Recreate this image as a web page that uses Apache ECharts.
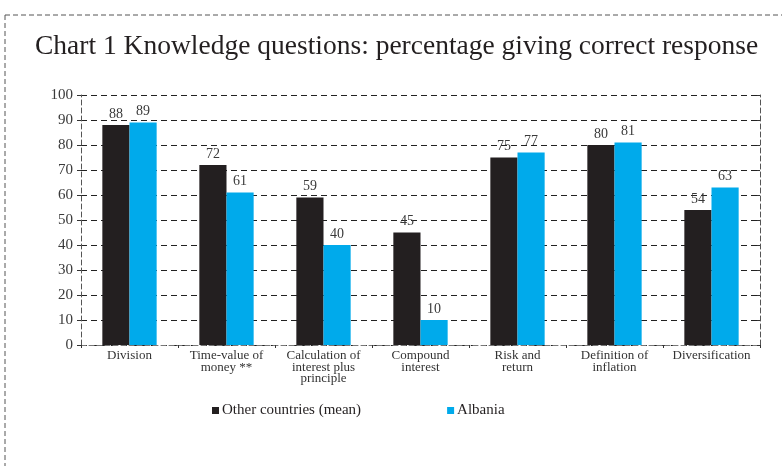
<!DOCTYPE html>
<html>
<head>
<meta charset="utf-8">
<script src="https://cdn.jsdelivr.net/npm/echarts@6/dist/echarts.min.js"></script>
<style>
html,body{margin:0;padding:0;background:#fff;}
#c{width:782px;height:466px;}
</style>
</head>
<body>
<div id="c"></div>
<script>
const categories = ["Division", "Time-value of\nmoney **", "Calculation of\ninterest plus\nprinciple", "Compound\ninterest", "Risk and\nreturn", "Definition of\ninflation", "Diversification"];
const otherCountries = [88, 72, 59, 45, 75, 80, 54];
const albania = [89, 61, 40, 10, 77, 81, 63];
const yTicks = [0, 10, 20, 30, 40, 50, 60, 70, 80, 90, 100];

const serif = "'Liberation Serif', 'DejaVu Serif', serif";
const chart = echarts.init(document.getElementById('c'), null, {renderer: 'canvas'});
chart.setOption({
  backgroundColor: '#fff',
  animation: false,
  title: {
    text: 'Chart 1 Knowledge questions: percentage giving correct response',
    left: 30, top: 28,
    textStyle: {fontFamily: serif, fontSize: 27.5, fontWeight: 'normal', color: '#231f20'}
  },
  legend: {
    bottom: 43, left: 207,
    itemWidth: 7, itemHeight: 7, itemGap: 86,
    icon: 'rect',
    textStyle: {fontFamily: serif, fontSize: 15, color: '#231f20', padding: [0, 0, 0, -2]},
    data: ['Other countries (mean)', 'Albania']
  },
  grid: {left: 81, right: 22, top: 95, bottom: 121, containLabel: false},
  xAxis: {
    type: 'category',
    data: categories,
    axisLine: {lineStyle: {color: '#777', type: [5, 3], width: 1}},
    axisTick: {show: true, length: 3, lineStyle: {color: '#333'}},
    axisLabel: {fontFamily: serif, fontSize: 13, lineHeight: 11.5, color: '#333', margin: 5, interval: 0}
  },
  yAxis: [{
    type: 'value', min: 0, max: 100, interval: 10,
    axisLine: {show: true, lineStyle: {color: '#555', type: [5, 3]}},
    axisTick: {show: true, length: 4, lineStyle: {color: '#333'}},
    axisLabel: {fontFamily: serif, fontSize: 15, color: '#3a3a3a', margin: 8,
      formatter: v => yTicks.includes(v) ? String(v) : ''},
    splitLine: {show: true, lineStyle: {color: '#222', type: [6, 4], width: 1}}
  }, {
    type: 'value', min: 0, max: 100, interval: 10, position: 'right',
    axisLine: {show: true, lineStyle: {color: '#555', type: [5, 3]}},
    axisTick: {show: true, inside: true, length: 3, lineStyle: {color: '#333'}},
    axisLabel: {show: false},
    splitLine: {show: false}
  }],
  series: [{
    name: 'Other countries (mean)', type: 'bar', data: otherCountries,
    barWidth: '28%', barGap: '0%',
    itemStyle: {color: '#231f20'},
    label: {show: true, position: 'top', distance: 4, fontFamily: serif, fontSize: 14, color: '#3a3a3a'}
  }, {
    name: 'Albania', type: 'bar', data: albania,
    barWidth: '28%',
    itemStyle: {color: '#00aaeb'},
    label: {show: true, position: 'top', distance: 4, fontFamily: serif, fontSize: 14, color: '#3a3a3a'}
  }],
  graphic: [{
    type: 'line', shape: {x1: 5, y1: 15, x2: 782, y2: 15}, silent: true,
    style: {stroke: '#555', lineWidth: 1, lineDash: [5, 3]}
  }, {
    type: 'line', shape: {x1: 5, y1: 15, x2: 5, y2: 466}, silent: true,
    style: {stroke: '#555', lineWidth: 1, lineDash: [5, 3]}
  }]
});
</script>
</body>
</html>
